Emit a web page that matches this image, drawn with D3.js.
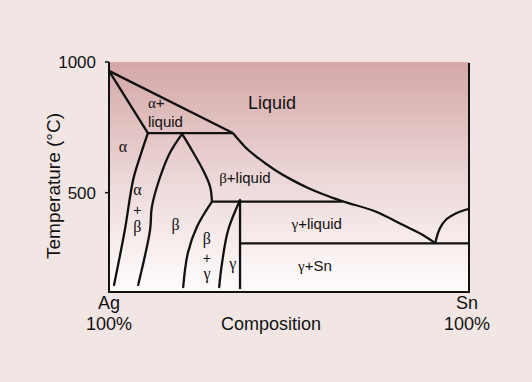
<!DOCTYPE html>
<html>
<head>
<meta charset="utf-8">
<script src="https://cdn.jsdelivr.net/npm/d3@7"></script>
<style>
  html, body { margin: 0; padding: 0; background: #f2e6e5; }
  svg { display: block; }
</style>
</head>
<body>
<div id="chart"></div>
<script>
// phase boundaries, [wt% Sn, temperature °C]
const agLiquidus = [[0, 966], [34.4, 728]];
const alphaSolidus = [[0, 966], [10.8, 728]];
const peritectic1 = [[10.8, 728], [34.4, 728]];
const alphaSolvus = [[10.8, 728], [8.6, 637], [6.7, 549], [4.4, 357], [1.4, 147]];
const betaLeft = [[20.3, 725], [16.9, 652], [14.2, 560], [11.9, 445], [11.4, 357], [8.1, 147]];
const betaRight = [[20.3, 725], [22.5, 675], [26.1, 587], [28.1, 522], [28.6, 466]];
const peritectic2 = [[28.6, 466], [64.7, 466]];
const betaGamma = [[28.6, 466], [24.4, 369], [21.9, 269], [20.6, 139]];
const gammaLeft = [[36.4, 472], [33.1, 357], [31.4, 231], [30.6, 139]];
const gammaRight = [[36.4, 472], [36.4, 131]];
const eutecticLine = [[36.4, 306], [100, 306]];
const mainLiquidus = [
  [34.4, 728], [37.8, 675], [41.4, 633], [46.1, 587], [50.8, 549],
  [55.3, 518], [60, 491], [64.7, 468], [74.4, 426], [81.7, 376], [87.2, 338], [90.6, 307]
];
const snLiquidus = [[90.6, 307], [91.4, 346], [92.8, 384], [95.6, 415], [100, 438]];

const straightLines = [agLiquidus, alphaSolidus, peritectic1, peritectic2, gammaRight, eutecticLine];
const solvusLines = [alphaSolvus, betaLeft, betaRight, betaGamma, gammaLeft];
const liquidusLines = [mainLiquidus, snLiquidus];

const yTicks = [500, 1000];

// region labels: position in [wt% Sn, °C], pieces of text with their font
const regionLabels = [
  { at: [45.3, 820], parts: [["Liquid", "sans"]], size: 18 },
  { at: [10.8, 824], parts: [["α", "serif"], ["+", "sans"]], size: 15, anchor: "start" },
  { at: [10.8, 752], parts: [["liquid", "sans"]], size: 15, anchor: "start" },
  { at: [3.9, 656], parts: [["α", "serif"]], size: 16 },
  { at: [7.9, 491], parts: [["α", "serif"]], size: 16 },
  { at: [7.9, 415], parts: [["+", "sans"]], size: 14 },
  { at: [7.9, 350], parts: [["β", "serif"]], size: 16 },
  { at: [18.5, 357], parts: [["β", "serif"]], size: 16 },
  { at: [30.6, 537], parts: [["β", "serif"], ["+liquid", "sans"]], size: 15, anchor: "start" },
  { at: [27.2, 302], parts: [["β", "serif"]], size: 16 },
  { at: [27.2, 232], parts: [["+", "sans"]], size: 14 },
  { at: [27.2, 170], parts: [["γ", "serif"]], size: 16 },
  { at: [34.4, 208], parts: [["γ", "serif"]], size: 16 },
  { at: [57.7, 361], parts: [["γ", "serif"], ["+liquid", "sans"]], size: 15 },
  { at: [57.2, 200], parts: [["γ", "serif"], ["+Sn", "sans"]], size: 15 }
];

const width = 532, height = 382;
const plotLeft = 109, plotRight = 469, plotTop = 62, plotBottom = 292;

const x = d3.scaleLinear().domain([0, 100]).range([plotLeft, plotRight]);
const y = d3.scaleLinear().domain([120, 1000]).range([plotBottom, plotTop]);

const svg = d3.select("#chart").append("svg")
  .attr("width", width)
  .attr("height", height);

const defs = svg.append("defs");
const grad = defs.append("linearGradient")
  .attr("id", "bg")
  .attr("x1", "0").attr("y1", "0")
  .attr("x2", "0").attr("y2", "1");
grad.append("stop").attr("offset", "0%").attr("stop-color", "#d5a7a7");
grad.append("stop").attr("offset", "55%").attr("stop-color", "#eedbdb");
grad.append("stop").attr("offset", "100%").attr("stop-color", "#fffcfc");

svg.append("rect")
  .attr("x", plotLeft)
  .attr("y", plotTop)
  .attr("width", plotRight - plotLeft)
  .attr("height", plotBottom - plotTop)
  .attr("fill", "url(#bg)");

const sans = "'Liberation Sans', Arial, Helvetica, sans-serif";
const serif = "'Liberation Serif', 'Times New Roman', serif";

// frame: left, bottom, right (no top edge)
svg.append("path")
  .attr("d", `M${plotLeft},${plotTop}V${plotBottom}H${plotRight}V${plotTop + 1}`)
  .attr("fill", "none")
  .attr("stroke", "#111")
  .attr("stroke-width", 2);

// y ticks
const yAxis = svg.append("g");
yAxis.selectAll("line")
  .data(yTicks)
  .join("line")
  .attr("x1", plotLeft - 4)
  .attr("x2", plotLeft)
  .attr("y1", (d) => y(d))
  .attr("y2", (d) => y(d))
  .attr("stroke", "#111")
  .attr("stroke-width", 1.5);
yAxis.selectAll("text")
  .data(yTicks)
  .join("text")
  .attr("x", 96)
  .attr("y", (d) => y(d) + 6)
  .attr("text-anchor", "end")
  .attr("font-family", sans)
  .attr("font-size", 17)
  .attr("fill", "#111")
  .text((d) => d);

// phase lines
const straight = d3.line().x((d) => x(d[0])).y((d) => y(d[1]));
const solvus = d3.line().x((d) => x(d[0])).y((d) => y(d[1])).curve(d3.curveCatmullRom.alpha(0.5));
const liquidus = d3.line().x((d) => x(d[0])).y((d) => y(d[1])).curve(d3.curveMonotoneX);

const lineStyle = (sel) =>
  sel.attr("fill", "none")
    .attr("stroke", "#111")
    .attr("stroke-width", 2.3)
    .attr("stroke-linejoin", "round");

svg.append("g").selectAll("path").data(straightLines).join("path")
  .attr("d", straight).call(lineStyle);
svg.append("g").selectAll("path").data(solvusLines).join("path")
  .attr("d", solvus).call(lineStyle).attr("stroke-linecap", "round");
svg.append("g").selectAll("path").data(liquidusLines).join("path")
  .attr("d", liquidus).call(lineStyle);

// region labels
const labels = svg.append("g");
regionLabels.forEach((lab) => {
  const t = labels.append("text")
    .attr("x", x(lab.at[0]))
    .attr("y", y(lab.at[1]))
    .attr("text-anchor", lab.anchor || "middle")
    .attr("font-size", lab.size)
    .attr("fill", "#111");
  lab.parts.forEach(([s, f]) => {
    t.append("tspan")
      .attr("font-family", f === "serif" ? serif : sans)
      .text(s);
  });
});

// axis titles
const axisText = (tx, ty, s) =>
  svg.append("text")
    .attr("x", tx)
    .attr("y", ty)
    .attr("text-anchor", "middle")
    .attr("font-family", sans)
    .attr("font-size", 18)
    .attr("fill", "#111")
    .text(s);

axisText(x(0), 309, "Ag");
axisText(x(0), 330, "100%");
axisText(x(100) - 2, 309, "Sn");
axisText(x(100) - 2, 330, "100%");
axisText(271, 330, "Composition");

svg.append("text")
  .attr("transform", "translate(60,186) rotate(-90)")
  .attr("text-anchor", "middle")
  .attr("font-family", sans)
  .attr("font-size", 19)
  .attr("fill", "#111")
  .text("Temperature (°C)");
</script>
</body>
</html>
